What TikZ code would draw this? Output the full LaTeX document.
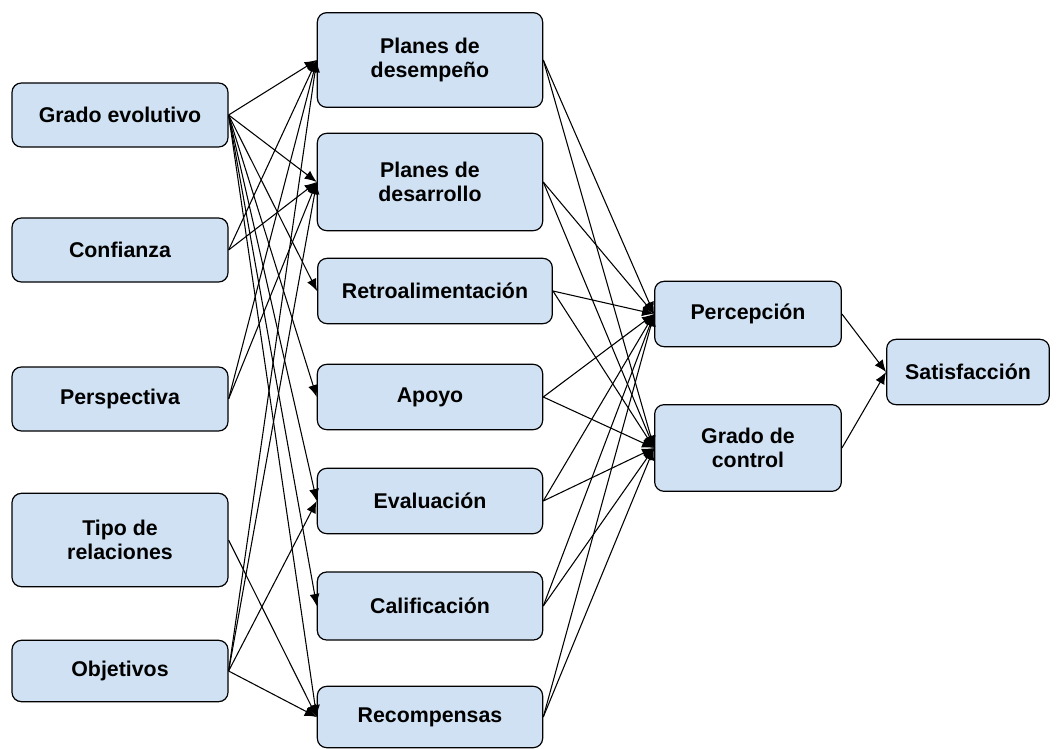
\documentclass[tikz,border=0pt]{standalone}
\usepackage{fontspec}
\setmainfont{Liberation Sans}
\usetikzlibrary{arrows.meta}
\definecolor{boxblue}{RGB}{207,225,242}

\begin{document}
\begin{tikzpicture}[x=0.75pt,y=-0.75pt,
    box/.style={draw, line width=0.9pt, rounded corners=7pt, fill=boxblue,
      font=\fontsize{16}{17.5}\selectfont\bfseries, align=center, inner sep=2pt},
    lbox/.style={box, minimum width=162pt},
    mbox/.style={box, minimum width=169pt},
    >={Latex[length=9pt,width=7.5pt]}]
    \useasboundingbox (0,0) rectangle (1064,749);
    % left column
    \node[lbox, minimum height=48pt] (GE) at (120,115) {Grado evolutivo};
    \node[lbox, minimum height=48pt] (CO) at (120,250) {Confianza};
    \node[lbox, minimum height=48pt] (PE) at (120,399) {Perspectiva};
    \node[lbox, minimum height=70pt] (TR) at (120,540) {Tipo de\\relaciones};
    \node[lbox, minimum height=46pt] (OB) at (120,671) {Objetivos};
    % middle column
    \node[mbox, minimum height=71pt] (PDS) at (430,60) {Planes de\\desempeño};
    \node[mbox, minimum height=73pt] (PDR) at (430,182) {Planes de\\desarrollo};
    \node[box, minimum width=176pt, minimum height=49pt] (RE) at (435,291) {Retroalimentación};
    \node[mbox, minimum height=49pt] (AP) at (430,397) {Apoyo};
    \node[mbox, minimum height=49pt] (EV) at (430,501) {Evaluación};
    \node[mbox, minimum height=51pt] (CA) at (430,606) {Calificación};
    \node[mbox, minimum height=46pt] (RC) at (430,717) {Recompensas};
    % right columns
    \node[box, minimum width=140pt, minimum height=49pt] (PC) at (748,314) {Percepción};
    \node[box, minimum width=140pt, minimum height=65pt] (GC) at (748,448) {Grado de\\control};
    \node[box, minimum width=122pt, minimum height=49pt] (SA) at (968,372) {Satisfacción};

    \begin{scope}[line width=0.8pt]
    \draw[->] (GE.east) -- (PDS.west); \draw[->] (GE.east) -- (PDR.west);
    \draw[->] (GE.east) -- (RE.west); \draw[->] (GE.east) -- (AP.west);
    \draw[->] (GE.east) -- (EV.west); \draw[->] (GE.east) -- (CA.west);
    \draw[->] (GE.east) -- (RC.west);
    \draw[->] (CO.east) -- (PDS.west); \draw[->] (CO.east) -- (PDR.west);
    \draw[->] (PE.east) -- (PDS.west); \draw[->] (PE.east) -- (PDR.west);
    \draw[->] (TR.east) -- (RC.west);
    \draw[->] (OB.east) -- (PDS.west); \draw[->] (OB.east) -- (PDR.west);
    \draw[->] (OB.east) -- (EV.west); \draw[->] (OB.east) -- (RC.west);

    \draw[->] (PDS.east) -- (PC.west); \draw[->] (PDS.east) -- (GC.west);
    \draw[->] (PDR.east) -- (PC.west); \draw[->] (PDR.east) -- (GC.west);
    \draw[->] (RE.east) -- (PC.west); \draw[->] (RE.east) -- (GC.west);
    \draw[->] (AP.east) -- (PC.west); \draw[->] (AP.east) -- (GC.west);
    \draw[->] (EV.east) -- (PC.west); \draw[->] (EV.east) -- (GC.west);
    \draw[->] (CA.east) -- (PC.west); \draw[->] (CA.east) -- (GC.west);
    \draw[->] (RC.east) -- (PC.west); \draw[->] (RC.east) -- (GC.west);

    \draw[->] (PC.east) -- (SA.west); \draw[->] (GC.east) -- (SA.west);
    \end{scope}
\end{tikzpicture}
\end{document}
